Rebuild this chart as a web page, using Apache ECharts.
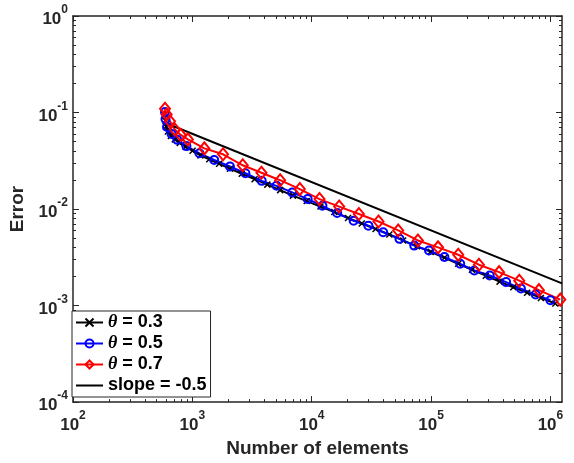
<!DOCTYPE html>
<html>
<head>
<meta charset="utf-8">
<script src="https://cdn.jsdelivr.net/npm/echarts@6/dist/echarts.min.js"></script>
<style>
  html, body { margin: 0; background: #fff; }
  #chart { width: 574px; height: 463px; }
</style>
</head>
<body>
<div id="chart"></div>
<script>
// axis ranges and tick labels
const xMin = 100, xMax = 1.25e6
const yMin = 1e-4, yMax = 1
const xMajor = [1e2, 1e3, 1e4, 1e5, 1e6]
const yMajor = [1e-4, 1e-3, 1e-2, 1e-1, 1]

// theta = 0.3
const n03 = [590, 593, 601, 624, 661, 713, 784, 879, 1004, 1168, 1386, 1676, 2065, 2594, 3319, 4248, 5438, 6960, 9078, 11840, 15450, 20150, 26280, 34280, 44720, 58330, 76080, 99240, 129400, 168900, 220300, 287300, 374800, 488900, 637700, 831800, 1100000]
const e03 = [0.0954, 0.0827, 0.0717, 0.0637, 0.0572, 0.0527, 0.0485, 0.0441, 0.0401, 0.0360, 0.0328, 0.0294, 0.0262, 0.0232, 0.0204, 0.0179, 0.0157, 0.01378, 0.01209, 0.01061, 0.00931, 0.00808, 0.00709, 0.00622, 0.00546, 0.00473, 0.00411, 0.00360, 0.00313, 0.00271, 0.00235, 0.00204, 0.00177, 0.00155, 0.00136, 0.00120, 0.00105]
// theta = 0.5
const n05 = [590, 596, 613, 670, 748, 891, 1147, 1524, 2065, 2783, 3812, 5069, 6868, 9253, 12300, 16350, 22450, 29850, 39680, 54370, 72280, 96100, 129400, 175400, 230100, 309900, 425600, 565700, 752000, 1000000]
const e05 = [0.1012, 0.0857, 0.0709, 0.0600, 0.0521, 0.0449, 0.0378, 0.0322, 0.0276, 0.0235, 0.0196, 0.0174, 0.01487, 0.01268, 0.01081, 0.00909, 0.00757, 0.00673, 0.00575, 0.00491, 0.00418, 0.00372, 0.00318, 0.00271, 0.00231, 0.00205, 0.00175, 0.00150, 0.00130, 0.001134]
// theta = 0.7
const n07 = [590, 609, 649, 713, 799, 918, 1260, 1808, 2643, 3790, 5438, 7948, 11620, 16980, 24830, 36290, 53040, 77540, 114400, 168900, 251600, 371200, 548000, 800900, 1209000]
const e07 = [0.1092, 0.0954, 0.0813, 0.0668, 0.0586, 0.0527, 0.0425, 0.0369, 0.0284, 0.0238, 0.0199, 0.0161, 0.01268, 0.01061, 0.00888, 0.00743, 0.00600, 0.00473, 0.00401, 0.00336, 0.00265, 0.00222, 0.00181, 0.001445, 0.001153]
// reference slope
const nSlope = [590, 1250000]
const eSlope = [0.0783, 0.00170]

const ink = '#262626'
const font = 'Liberation Sans, Arial, sans-serif'

function minorTicks(lo, hi) {
  const out = []
  for (let p = Math.floor(Math.log10(lo)); p <= Math.ceil(Math.log10(hi)); p++) {
    for (let k = 2; k <= 9; k++) {
      const v = k * Math.pow(10, p)
      if (v > lo && v < hi) out.push(v)
    }
  }
  return out
}

const pow10 = v => '{b|10}{s|' + Math.round(Math.log10(v)) + '}'
const labelRich = {
  b: { fontSize: 17, fontWeight: 'bold', color: ink, fontFamily: font, padding: [7, 0, 0, 0] },
  s: { fontSize: 12, fontWeight: 'bold', color: ink, fontFamily: font, verticalAlign: 'top' }
}

function axis(pos, major, lo, hi, extra) {
  const isMajor = major !== null
  return Object.assign({
    type: 'log', logBase: 10, min: lo, max: hi, position: pos,
    axisLine: { show: isMajor, onZero: false, lineStyle: { color: ink, width: 1.5 } },
    axisTick: { show: true, inside: true, length: isMajor ? 6 : 3, lineStyle: { color: ink, width: 1 },
      customValues: isMajor ? major : minorTicks(lo, hi) },
    axisLabel: { show: false },
    splitLine: { show: false },
    minorTick: { show: false }
  }, extra || {})
}

const clear = 'rgba(0,0,0,0)'
const series = [
  { name: 'θ = 0.3', n: n03, e: e03, color: '#000000', symbol: 'path://M0,0L10,10M10,0L0,10', size: 6, fill: '#000000', bw: 1.5 },
  { name: 'θ = 0.5', n: n05, e: e05, color: '#0000ff', symbol: 'path://M0,5A5,5 0 1,1 10,5A5,5 0 1,1 0,5Z', size: 8, fill: clear, bw: 2 },
  { name: 'θ = 0.7', n: n07, e: e07, color: '#ff0000', symbol: 'path://M5,0L10,6L5,12L0,6Z', size: [10, 12], fill: clear, bw: 2 },
  { name: 'slope = -0.5', n: nSlope, e: eSlope, color: '#000000', symbol: 'none', fill: clear, bw: 0 }
].map(s => ({
  name: s.name,
  type: 'line',
  data: s.n.map((v, i) => [v, s.e[i]]),
  symbol: s.symbol,
  symbolSize: s.size,
  showAllSymbol: true,
  lineStyle: { color: s.color, width: 2 },
  itemStyle: { color: s.fill, borderColor: s.color, borderWidth: s.bw },
  emphasis: { disabled: true },
  animation: false,
  xAxisIndex: 0,
  yAxisIndex: 0
}))

const chart = echarts.init(document.getElementById('chart'))
chart.setOption({
  backgroundColor: '#fff',
  grid: { left: 66, top: 16, right: 12, bottom: 59 },
  xAxis: [
    axis('bottom', xMajor, xMin, xMax, {
      name: 'Number of elements', nameLocation: 'middle', nameGap: 31,
      nameTextStyle: { fontSize: 19, fontWeight: 'bold', color: ink, fontFamily: font },
      axisLabel: { show: true, margin: 8, formatter: pow10, rich: labelRich, customValues: xMajor }
    }),
    axis('bottom', null, xMin, xMax),
    axis('top', xMajor, xMin, xMax),
    axis('top', null, xMin, xMax)
  ],
  yAxis: [
    axis('left', yMajor, yMin, yMax, {
      name: 'Error', nameLocation: 'middle', nameGap: 46,
      nameTextStyle: { fontSize: 19, fontWeight: 'bold', color: ink, fontFamily: font },
      axisLabel: { show: true, margin: 5, formatter: pow10, rich: labelRich, customValues: yMajor }
    }),
    axis('left', null, yMin, yMax),
    axis('right', yMajor, yMin, yMax),
    axis('right', null, yMin, yMax)
  ],
  legend: {
    orient: 'vertical', left: 72, top: 311,
    backgroundColor: '#fff', borderColor: ink, borderWidth: 1,
    padding: [1, 4, 1, 3], itemGap: 0, itemWidth: 27, itemHeight: 10,
    textStyle: {
      fontSize: 18, lineHeight: 21, fontWeight: 'bold', color: '#000', fontFamily: font,
      rich: { i: { fontSize: 18, lineHeight: 21, fontStyle: 'italic', fontFamily: 'Liberation Serif, serif', color: '#000' } }
    },
    formatter: name => name.replace('θ', '{i|θ}'),
    data: series.map(s => s.name)
  },
  series
})
</script>
</body>
</html>
